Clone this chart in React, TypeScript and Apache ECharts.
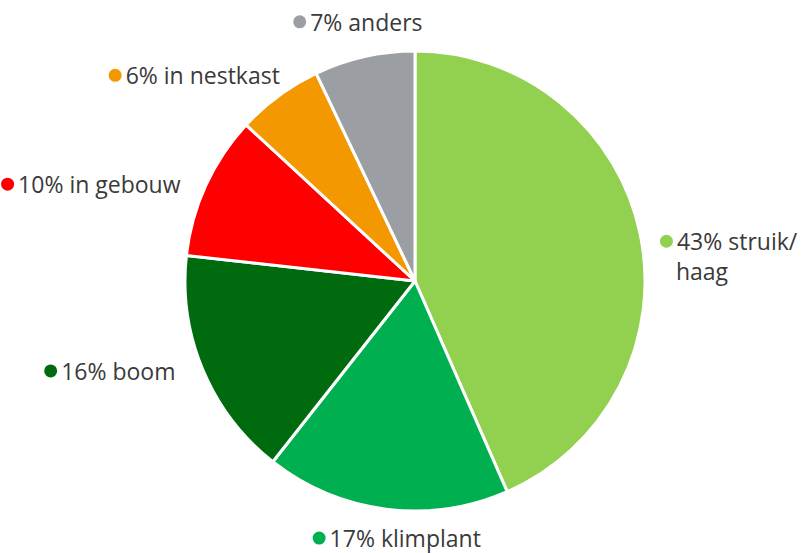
import React, { useEffect, useRef } from "react";
import * as echarts from "echarts";

const categories = ["struik/\nhaag", "klimplant", "boom", "in gebouw", "in nestkast", "anders"];
const values = [43, 17, 16, 10, 6, 7];
const colors = ["#92D050", "#00B050", "#006A0F", "#FF0000", "#F39800", "#9B9FA3"];
const labelShift: [number, number][] = [[3, 24], [105, 21], [-11, -2], [-9, 2], [15, -14], [69, -27]];

export default function App() {
  const ref = useRef<HTMLDivElement>(null);
  useEffect(() => {
    document.body.style.margin = "0";
    const chart = echarts.init(ref.current!, undefined, { renderer: "svg" });
    const rich: any = {
      t: { fontSize: 23, color: "#3a3a3a", fontFamily: "Open Sans", lineHeight: 24 },
      m: { fontSize: 23, color: "#3a3a3a", fontFamily: "Open Sans", lineHeight: 30 },
      sp: { width: 16 },
      sp2: { width: 4 },
    };
    colors.forEach((c, i) => {
      rich["d" + i] = { width: 13, height: 13, borderRadius: 6.5, backgroundColor: c, padding: 0 };
    });
    chart.setOption({
      animation: false,
      series: [
        {
          type: "pie",
          center: [415, 281],
          radius: 230,
          startAngle: 90,
          clockwise: true,
          avoidLabelOverlap: false,
          itemStyle: { borderColor: "#fff", borderWidth: 3 },
          label: {
            position: "outside",
            fontFamily: "Open Sans",
            formatter: (p: any) => {
              const lines = String(p.name).split("\n");
              const st = lines.length > 1 ? "m" : "t";
              let s = `{d${p.dataIndex}|}{sp2| }{${st}|${p.value}% ${lines[0]}}`;
              for (let k = 1; k < lines.length; k++) s += `\n{sp|}{${st}|${lines[k]}}`;
              return s;
            },
            rich,
          },
          labelLine: { show: false, length: 8, length2: 4 },
          labelLayout: (p: any) => ({ dx: labelShift[p.dataIndex][0], dy: labelShift[p.dataIndex][1] }),
          data: categories.map((name, i) => ({ name, value: values[i], itemStyle: { color: colors[i] } })),
        },
      ],
    });
    return () => chart.dispose();
  }, []);
  return <div ref={ref} style={{ width: 808, height: 553 }} />;
}
